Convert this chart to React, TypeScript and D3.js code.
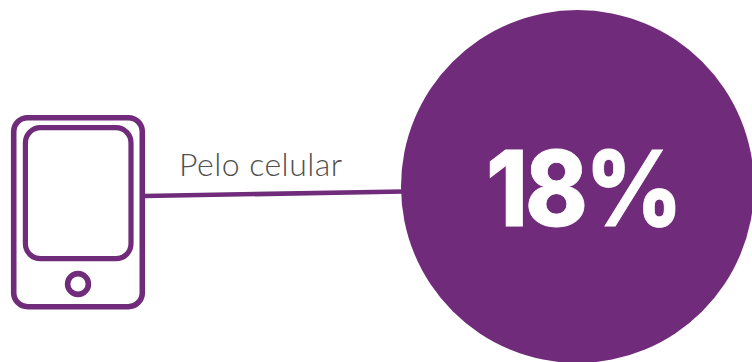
import React from "react";
import * as d3 from "d3";

// Share of people using this access channel
const channelLabels = ["Pelo celular"];
const channelShares = [18];
const purple = "#702b7a";

// The bubble is sized from its share on an area scale
const radius = d3.scaleSqrt().domain([0, 18]).range([0, 176.5]);
const bubble = d3.arc();
const connector = d3.line();

export default function App() {
  const r = radius(channelShares[0]);
  const cx = 577.5;
  const cy = 186.5;
  const linePath = connector([[144, 196], [404, 191.5]]) as string;
  const bubblePath = bubble({ innerRadius: 0, outerRadius: r, startAngle: 0, endAngle: 2 * Math.PI }) as string;

  return (
    <svg width={752} height={362} viewBox="0 0 752 362" style={{ position: "absolute", left: 0, top: 0, display: "block" }}>
      <rect width={752} height={362} fill="#ffffff" />
      <g fill="none" stroke={purple}>
        <rect x={13.7} y={117.7} width={128.6} height={189} rx={14} strokeWidth={5.6} />
        <rect x={25.4} y={127.7} width={105.6} height={131} rx={15} strokeWidth={5.2} />
        <circle cx={78} cy={284} r={10.4} strokeWidth={5.6} />
      </g>
      <path d={linePath} fill="none" stroke={purple} strokeWidth={4.6} />
      <path d={bubblePath} transform={`translate(${cx},${cy})`} fill={purple} />
      <text x={179} y={176} fontFamily="Lato" fontWeight={300} fontSize={32} fill="#4f4f4f" textLength={163} lengthAdjust="spacing">
        {channelLabels[0]}
      </text>
      <text transform="translate(486,226) scale(0.91,1)" fontFamily="Inter" fontWeight={800} fontSize={104} fill="#ffffff" stroke="#ffffff" strokeWidth={0.8} letterSpacing={-3}>
        {`${channelShares[0]}%`}
      </text>
    </svg>
  );
}
